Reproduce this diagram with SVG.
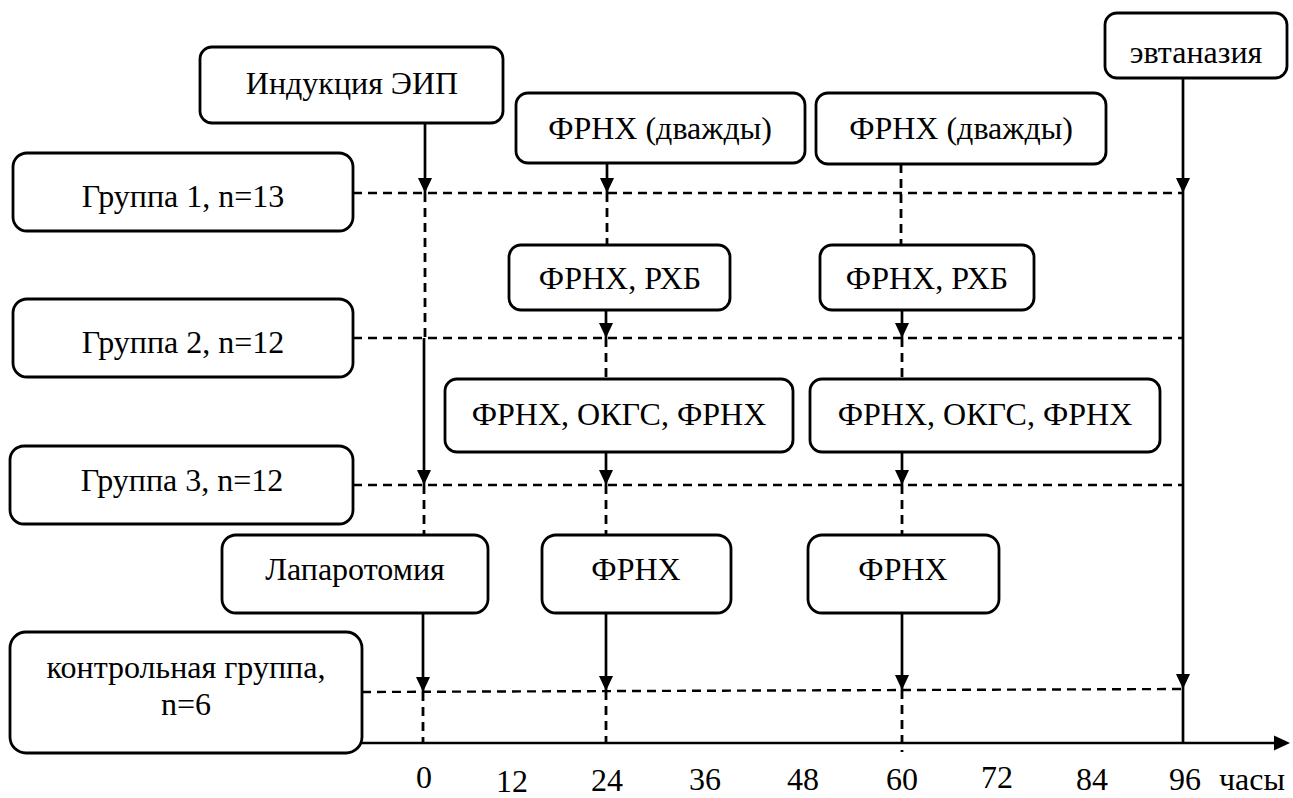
<svg xmlns="http://www.w3.org/2000/svg" width="1293" height="798" viewBox="0 0 1293 798">
<defs>
<style>
.box{fill:#fff;stroke:#000;stroke-width:2.8}
.t{font-size:32px;fill:#000;text-anchor:middle}
.arr{fill:none;stroke:#000;stroke-width:2.7;marker-end:url(#ah)}
.sol{fill:none;stroke:#000;stroke-width:2.7}
.dash{fill:none;stroke:#000;stroke-width:2.4;stroke-dasharray:9 6}
.vd{fill:none;stroke:#000;stroke-width:2.8;stroke-dasharray:9 6}
</style>
<marker id="ah" viewBox="0 0 15 14" refX="15" refY="7" markerWidth="15" markerHeight="14" markerUnits="userSpaceOnUse" orient="auto">
<path d="M0,0 L15,7 L0,14 z" fill="#000"/>
</marker>
</defs>
<rect width="1293" height="798" fill="#fff"/>

<g id="connectors">
<path class="dash" d="M353,193 H1183"/>
<path class="dash" d="M353,338 H1183"/>
<path class="dash" d="M353,485 H1183"/>
<path class="dash" d="M362,692 L1183,689"/>
<path class="vd" d="M425,193 V338"/>
<path class="vd" d="M424,485 V535"/>
<path class="vd" d="M423,692 V743"/>
<path class="vd" d="M607,193 V245"/>
<path class="vd" d="M606,338 V379"/>
<path class="vd" d="M606,485 V535"/>
<path class="vd" d="M606,691 V743"/>
<path class="vd" d="M901,164 V245"/>
<path class="vd" d="M902,338 V379"/>
<path class="vd" d="M902,485 V535"/>
<path class="vd" d="M902,690 V752"/>
<path class="arr" d="M425,123 V193"/>
<path class="arr" d="M424,338 V485"/>
<path class="arr" d="M423,613 V692"/>
<path class="arr" d="M607,163 V193"/>
<path class="arr" d="M606,310 V338"/>
<path class="arr" d="M606,452 V485"/>
<path class="arr" d="M606,613 V691"/>
<path class="arr" d="M902,310 V338"/>
<path class="arr" d="M902,452 V485"/>
<path class="arr" d="M902,613 V690"/>
<path class="arr" d="M1183,78 V193"/>
<path class="arr" d="M1183,193 V689"/>
<path class="sol" d="M1183,689 V743"/>
<path class="sol" d="M362,743 H1276"/>
<path d="M1274,735.5 L1290,743 L1274,750.5 z" fill="#000"/>
</g>

<g font-family="Liberation Serif, Tinos, Times New Roman, DejaVu Serif, serif">
<g id="induction"><rect class="box" x="200" y="47" width="303" height="76" rx="12"/><text class="t" x="352" y="94">Индукция ЭИП</text></g>
<g id="frnh2x-24"><rect class="box" x="516" y="93" width="289" height="70" rx="12"/><text class="t" x="660" y="139">ФРНХ (дважды)</text></g>
<g id="frnh2x-60"><rect class="box" x="816" y="93" width="290" height="71" rx="12"/><text class="t" x="961" y="139">ФРНХ (дважды)</text></g>
<g id="euthanasia"><rect class="box" x="1105" y="13" width="182" height="65" rx="12"/><text class="t" x="1196" y="63">эвтаназия</text></g>

<g id="group1"><rect class="box" x="13" y="153" width="340" height="78" rx="14"/><text class="t" x="183" y="207">Группа 1, n=13</text></g>
<g id="group2"><rect class="box" x="13" y="299" width="340" height="78" rx="14"/><text class="t" x="183" y="353">Группа 2, n=12</text></g>
<g id="group3"><rect class="box" x="10" y="446" width="343" height="78" rx="14"/><text class="t" x="182" y="491">Группа 3, n=12</text></g>
<g id="control"><rect class="box" x="10" y="632" width="352" height="121" rx="16"/><text class="t" x="186" y="678">контрольная группа,</text><text class="t" x="186" y="715">n=6</text></g>

<g id="frnh-rhb-24"><rect class="box" x="509" y="245" width="221" height="65" rx="12"/><text class="t" x="620" y="289">ФРНХ, РХБ</text></g>
<g id="frnh-rhb-60"><rect class="box" x="820" y="245" width="214" height="65" rx="12"/><text class="t" x="927" y="289">ФРНХ, РХБ</text></g>
<g id="okgs-24"><rect class="box" x="445" y="379" width="348" height="73" rx="12"/><text class="t" x="619" y="425">ФРНХ, ОКГС, ФРНХ</text></g>
<g id="okgs-60"><rect class="box" x="810" y="379" width="350" height="73" rx="12"/><text class="t" x="985" y="425">ФРНХ, ОКГС, ФРНХ</text></g>

<g id="laparotomy"><rect class="box" x="222" y="535" width="266" height="78" rx="14"/><text class="t" x="355" y="580">Лапаротомия</text></g>
<g id="frnh-24"><rect class="box" x="542" y="535" width="189" height="78" rx="14"/><text class="t" x="636" y="580">ФРНХ</text></g>
<g id="frnh-60"><rect class="box" x="808" y="535" width="191" height="78" rx="14"/><text class="t" x="903" y="580">ФРНХ</text></g>

<g id="axis-labels">
<text class="t" x="424" y="788">0</text>
<text class="t" x="512" y="792">12</text>
<text class="t" x="607" y="791">24</text>
<text class="t" x="705" y="790">36</text>
<text class="t" x="803" y="790">48</text>
<text class="t" x="902" y="790">60</text>
<text class="t" x="997" y="788">72</text>
<text class="t" x="1092" y="790">84</text>
<text class="t" x="1185" y="790">96</text>
<text class="t" x="1252" y="790">часы</text>
</g>
</g>
</svg>
